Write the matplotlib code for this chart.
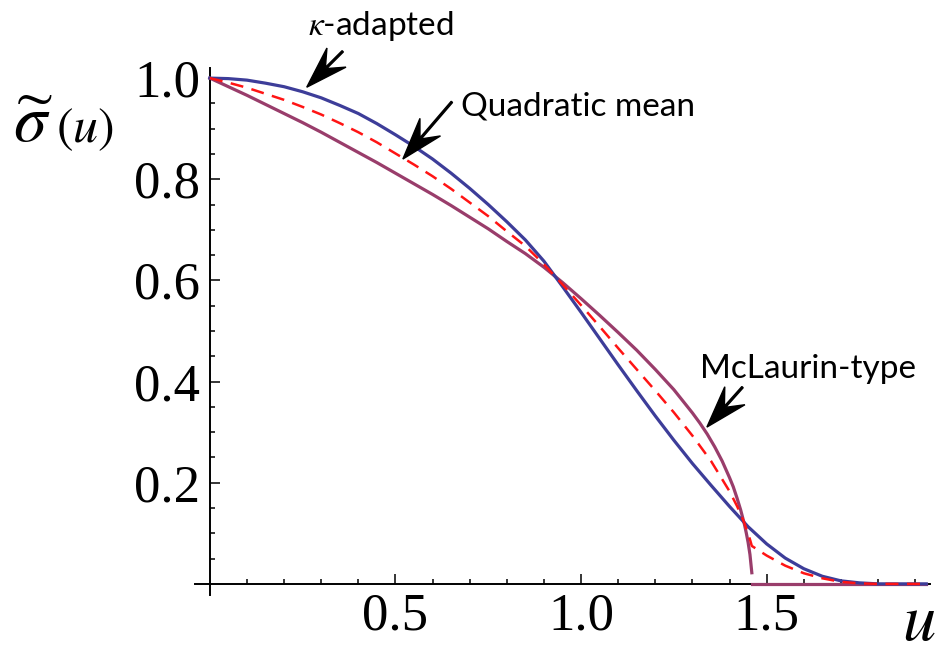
import numpy as np
import matplotlib
matplotlib.use('Agg')
import matplotlib.pyplot as plt
from matplotlib.patches import FancyArrow
from matplotlib.transforms import IdentityTransform

plt.rcParams['font.family'] = ['Liberation Serif', 'DejaVu Serif']
plt.rcParams['mathtext.fontset'] = 'stix'

# kappa-adapted approximation (blue)
u_kappa = [0.00, 0.05, 0.10, 0.15, 0.20, 0.25, 0.30, 0.35, 0.40, 0.45, 0.50,
           0.55, 0.60, 0.65, 0.70, 0.75, 0.80, 0.85, 0.90, 0.95, 1.00,
           1.05, 1.10, 1.15, 1.20, 1.25, 1.30, 1.35, 1.40, 1.45, 1.50,
           1.55, 1.60, 1.65, 1.70, 1.75, 1.80, 1.93]
s_kappa = [1.000, 0.999, 0.996, 0.990, 0.983, 0.973, 0.961, 0.946, 0.930, 0.910, 0.888,
           0.865, 0.840, 0.812, 0.782, 0.750, 0.716, 0.680, 0.638, 0.588, 0.537,
           0.485, 0.433, 0.382, 0.332, 0.284, 0.238, 0.195, 0.153, 0.113, 0.079,
           0.051, 0.030, 0.015, 0.006, 0.002, 0.000, 0.000]

# McLaurin-type approximation (purple), stops near u = 1.46 and is zero after
u_mcl = [0.00, 0.05, 0.10, 0.15, 0.20, 0.25, 0.30, 0.35, 0.40, 0.45, 0.50,
         0.55, 0.60, 0.65, 0.70, 0.75, 0.80, 0.85, 0.90, 0.95, 1.00,
         1.05, 1.10, 1.15, 1.20, 1.25, 1.30, 1.32, 1.34, 1.36, 1.38,
         1.40, 1.41, 1.42, 1.43, 1.44, 1.445, 1.45, 1.455, 1.46]
s_mcl = [1.000, 0.983, 0.966, 0.948, 0.930, 0.912, 0.893, 0.873, 0.853, 0.833, 0.812,
         0.791, 0.770, 0.748, 0.725, 0.702, 0.677, 0.653, 0.626, 0.596, 0.564,
         0.531, 0.497, 0.462, 0.424, 0.384, 0.338, 0.318, 0.296, 0.271, 0.243,
         0.210, 0.192, 0.170, 0.146, 0.118, 0.101, 0.082, 0.058, 0.022]
u_mcl_tail = [1.46, 1.93]
s_mcl_tail = [0.0, 0.0]

# quadratic mean (red dashed)
u_quad = [0.00, 0.05, 0.10, 0.15, 0.20, 0.25, 0.30, 0.35, 0.40, 0.45, 0.50,
          0.55, 0.60, 0.65, 0.70, 0.75, 0.80, 0.85, 0.90, 0.95, 1.00,
          1.05, 1.10, 1.15, 1.20, 1.25, 1.30, 1.35, 1.40, 1.42, 1.43,
          1.44, 1.45, 1.455, 1.46, 1.50, 1.55, 1.60, 1.65, 1.70, 1.75,
          1.80, 1.93]
s_quad = [1.000, 0.991, 0.981, 0.969, 0.957, 0.943, 0.928, 0.911, 0.893, 0.873, 0.851,
          0.829, 0.806, 0.781, 0.754, 0.727, 0.697, 0.668, 0.632, 0.592, 0.551,
          0.509, 0.466, 0.424, 0.382, 0.339, 0.293, 0.243, 0.183, 0.154, 0.138,
          0.120, 0.099, 0.088, 0.075, 0.056, 0.036, 0.021, 0.011, 0.004, 0.001,
          0.000, 0.000]

x_major = [0.5, 1.0, 1.5]
x_labels = ['0.5', '1.0', '1.5']
y_major = [0.2, 0.4, 0.6, 0.8, 1.0]
y_labels = ['0.2', '0.4', '0.6', '0.8', '1.0']

blue = (0.24, 0.24, 0.6)
purple = (0.6, 0.24, 0.42)
red = '#ff1414'

fig = plt.figure(figsize=(9.36, 6.53), dpi=100)
ax = fig.add_axes([195 / 936, 58 / 653, 735 / 936, 527 / 653])
ax.set_xlim(-0.04, 1.94)
ax.set_ylim(-0.022, 1.02)

for side in ['top', 'right']:
    ax.spines[side].set_visible(False)
for side in ['left', 'bottom']:
    ax.spines[side].set_position(('data', 0))
    ax.spines[side].set_linewidth(1.4)
    ax.spines[side].set_zorder(1)

ax.set_xticks(x_major, x_labels)
ax.set_yticks(y_major, y_labels)
ax.set_xticks([t for t in np.round(np.arange(0.1, 1.95, 0.1), 2) if t not in x_major], minor=True)
ax.set_yticks([t for t in np.round(np.arange(0.05, 1.0, 0.05), 2) if t not in y_major], minor=True)
ax.tick_params(which='both', direction='in', width=1.1, color='black')
ax.tick_params(which='major', length=7, labelsize=38)
ax.tick_params(which='minor', length=3.8)
ax.tick_params(axis='x', which='major', pad=6)
ax.tick_params(axis='y', which='major', pad=7)

ax.plot(u_mcl, s_mcl, color=purple, lw=2.3, zorder=2)
ax.plot(u_mcl_tail, s_mcl_tail, color=purple, lw=2.3, zorder=2)
ax.plot(u_kappa, s_kappa, color=blue, lw=2.3, zorder=3)
ax.plot(u_quad, s_quad, color=red, lw=1.8, dashes=(5.2, 3.4), zorder=4)

# axis labels
fig.text(13 / 936, 1 - 142 / 653, r'$\widetilde{\sigma}$', fontsize=48, va='baseline')
fig.text(56 / 936, 1 - 142 / 653, r'$(u)$', fontsize=36, va='baseline')
fig.text(902 / 936, 1 - 640 / 653, r'$u$', fontsize=48, va='baseline')

# curve names
fig.text(308 / 936, 1 - 35 / 653, r'$\kappa$-adapted', fontsize=24, family='Lato', va='baseline')
fig.text(461 / 936, 1 - 115 / 653, 'Quadratic mean', fontsize=24, family='Lato', va='baseline')
fig.text(700 / 936, 1 - 378 / 653, 'McLaurin-type', fontsize=24, family='Lato', va='baseline')


def dart(tip, tail):
    x0, y0 = ax.transData.transform(tail)
    x1, y1 = ax.transData.transform(tip)
    arr = FancyArrow(x0, y0, x1 - x0, y1 - y0, width=1.8, head_width=27, head_length=42,
                     overhang=0.35, length_includes_head=True, color='black',
                     transform=IdentityTransform(), clip_on=False, zorder=5)
    fig.add_artist(arr)


dart((0.261, 0.982), (0.358, 1.053))
dart((0.520, 0.840), (0.652, 0.953))
dart((1.339, 0.310), (1.435, 0.389))

fig.savefig('out.png', dpi=100)
